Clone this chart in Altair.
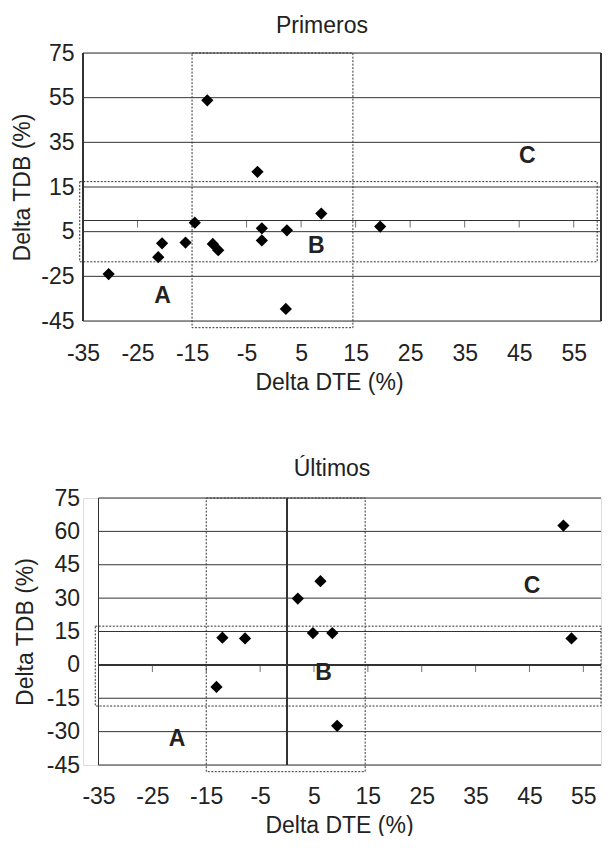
import altair as alt
import pandas as pd

FONT = "Liberation Sans"
INK = "#222222"
FS = 23

# ---- data ----
x_ticks = [-35, -25, -15, -5, 5, 15, 25, 35, 45, 55]
top_y_ticks = [75, 55, 35, 15, -5, -25, -45]
top_y_labels = ["75", "55", "35", "15", "5", "-25", "-45"]
bot_y_ticks = [75, 60, 45, 30, 15, 0, -15, -30, -45]
bot_y_labels = ["75", "60", "45", "30", "15", "0", "-15", "-30", "-45"]

top_x = [-30.3, -21.2, -20.5, -16.2, -14.5, -12.2, -11.2, -10.2, -3.0, -2.2, -2.2, 2.4, 2.2, 8.7, 19.5]
top_y = [-24.0, -16.4, -10.2, -9.9, -1.0, 53.8, -10.5, -13.3, 21.8, -3.5, -8.9, -4.4, -39.6, 3.1, -2.7]

bot_x = [-12.0, -7.8, -13.1, 2.0, 4.8, 6.2, 8.4, 9.3, 51.3, 52.8]
bot_y = [12.2, 11.9, -9.9, 29.8, 14.3, 37.6, 14.3, -27.4, 62.6, 11.9]

letters = ["A", "B", "C"]
top_letter_x = [-20.4, 7.8, 46.5]
top_letter_y = [-34.0, -11.4, 28.8]
bot_letter_x = [-20.4, 6.8, 45.5]
bot_letter_y = [-33.4, -3.8, 35.4]

box_x = [-15.0, -35.6]
box_x2 = [14.5, 59.3]
box_y = [-48.0, -18.5]
box_y2 = [75.0, 17.4]

X_MIN = -35
Y_MIN, Y_MAX = -45, 75


def label_expr(values, labels):
    expr = "'' + datum.value"
    for v, l in zip(values, labels):
        if str(v) != l:
            expr = f"datum.value == {v} ? '{l}' : ({expr})"
    return expr


def panel(title, xs, ys, yticks, ylabels, lx, ly, dom_lo, dom_hi, width, height,
          ylabpad, ytitlepad, xlabpad, xtitlepad, title_off, title_dx, xtitle_dx,
          show_right, show_vzero):
    xscale = alt.Scale(domain=[dom_lo, dom_hi], nice=False, zero=False)
    yscale = alt.Scale(domain=[Y_MIN, Y_MAX], nice=False, zero=False)
    xaxis = alt.Axis(values=x_ticks, labelExpr="'' + datum.value",
                     domain=False, ticks=False, tickSize=0, grid=False,
                     labelPadding=xlabpad, labelFontSize=FS, labelColor=INK, labelFont=FONT,
                     labelFlush=False, labelOverlap=False,
                     title="Delta DTE (%)", titleFontSize=FS, titleFontWeight="normal",
                     titleFont=FONT, titleColor=INK, titlePadding=xtitlepad,
                     titleX=width / 2 + xtitle_dx)
    yaxis = alt.Axis(values=yticks, labelExpr=label_expr(yticks, ylabels),
                     domain=False, ticks=False, tickSize=0, grid=False,
                     labelPadding=ylabpad, labelFontSize=FS, labelColor=INK,
                     labelFont=FONT, labelFlush=False, labelOverlap=False,
                     title="Delta TDB (%)", titleFontSize=FS, titleFontWeight="normal",
                     titleFont=FONT, titleColor=INK, titlePadding=ytitlepad)

    pts = pd.DataFrame({"x": xs, "y": ys})
    txt = pd.DataFrame({"x": lx, "y": ly, "t": letters})
    bx2 = [min(v, dom_hi) for v in box_x2]
    boxes = pd.DataFrame({"x": box_x, "x2": bx2, "y": box_y, "y2": box_y2})
    tk = pd.DataFrame({"x": x_ticks[1:]})
    grid = pd.DataFrame({"g": yticks})

    base_x = alt.X("x:Q", scale=xscale, axis=xaxis)
    base_y = alt.Y("y:Q", scale=yscale, axis=yaxis)
    hi = alt.datum(dom_hi)

    gridlines = alt.Chart(grid).mark_rule(color="#333", strokeWidth=1).encode(
        y=alt.Y("g:Q", scale=yscale, axis=yaxis), x=alt.X(datum=X_MIN, scale=xscale, axis=xaxis),
        x2=hi)
    left = alt.Chart(grid).mark_rule(color="#333", strokeWidth=1).encode(
        x=alt.X(datum=X_MIN, scale=xscale, axis=xaxis),
        y=alt.Y(datum=Y_MIN, scale=yscale, axis=yaxis), y2=alt.datum(Y_MAX))
    points = alt.Chart(pts).mark_point(shape="diamond", filled=True, size=150,
                                       color="black", opacity=1).encode(x=base_x, y=base_y)
    rects = alt.Chart(boxes).mark_rect(fill="transparent", stroke="#333", strokeWidth=1,
                                       strokeDash=[2, 1.5]).encode(
        x=base_x, x2="x2:Q", y=base_y, y2="y2:Q")
    hzero = alt.Chart(grid).mark_rule(color="#333", strokeWidth=1).encode(
        y=alt.Y(datum=0, scale=yscale, axis=yaxis),
        x=alt.X(datum=X_MIN, scale=xscale, axis=xaxis), x2=hi)
    ticks = alt.Chart(tk).mark_tick(orient="vertical", size=7, thickness=1, color="#333",
                                    yOffset=3.5).encode(
        x=base_x, y=alt.Y(datum=0, scale=yscale, axis=yaxis))
    texts = alt.Chart(txt).mark_text(fontSize=FS, fontWeight="bold", font=FONT,
                                     color=INK).encode(x=base_x, y=base_y, text="t:N")
    layers = [gridlines, left, rects, hzero, ticks]
    if show_vzero:
        layers.append(alt.Chart(grid).mark_rule(color="#333", strokeWidth=1).encode(
            x=alt.X(datum=0, scale=xscale, axis=xaxis)))
    if show_right:
        layers.append(alt.Chart(grid).mark_rule(color="#333", strokeWidth=1).encode(
            x=alt.X(datum=dom_hi, scale=xscale, axis=xaxis)))
    layers += [points, texts]
    return alt.layer(*layers).properties(
        width=width, height=height,
        title=alt.TitleParams(title, fontSize=FS, fontWeight="normal", font=FONT,
                              color=INK, anchor="middle", offset=title_off, dx=title_dx))


W = 518
top = panel("Primeros", top_x, top_y, top_y_ticks, top_y_labels, top_letter_x, top_letter_y,
            -35, 60, W, 268, 9, 6, 21.5, 6, 4.5, -20, -13, True, False)
# bottom: plot frame starts ~15px right of the shared left edge (labels sit further out)
PX_PER_UNIT_B = W / 95 * 0.988
bot_lo = -35 - 15.5 / PX_PER_UNIT_B
bot_hi = bot_lo + W / PX_PER_UNIT_B
bottom = panel("Últimos", bot_x, bot_y, bot_y_ticks, bot_y_labels, bot_letter_x, bot_letter_y,
               bot_lo, bot_hi, W, 267, 3.5, 9, 20.5, 5.5, 6, -10, -3, False, True)

chart = alt.vconcat(top, bottom, spacing=62).properties(
    padding={"top": 6, "left": 3, "right": 0, "bottom": -2}
).configure_view(stroke=None).configure(font=FONT)

chart.save("out.html", embed_options={"renderer": "svg", "actions": False})
